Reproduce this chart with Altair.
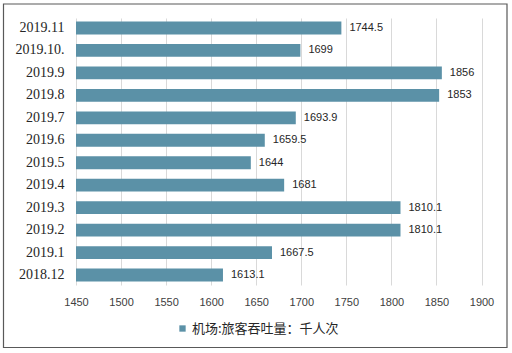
import altair as alt
import pandas as pd

months = ["2019.11", "2019.10.", "2019.9", "2019.8", "2019.7", "2019.6",
          "2019.5", "2019.4", "2019.3", "2019.2", "2019.1", "2018.12"]
values = [1744.5, 1699, 1856, 1853, 1693.9, 1659.5,
          1644, 1681, 1810.1, 1810.1, 1667.5, 1613.1]
labels = ["1744.5", "1699", "1856", "1853", "1693.9", "1659.5",
          "1644", "1681", "1810.1", "1810.1", "1667.5", "1613.1"]
x_ticks = [1450, 1500, 1550, 1600, 1650, 1700, 1750, 1800, 1850, 1900]
series_name = "机场:旅客吞吐量：千人次"

df = pd.DataFrame({"month": months, "value": values, "label": labels,
                   "series": [series_name] * len(months)})

W, H = 405.5, 267
PAD_L, PAD_T = 76, 18

xscale = alt.Scale(domain=[1450, 1900], nice=False, zero=False)
yscale = alt.Scale(paddingInner=0.43, paddingOuter=0.16)

base = alt.Chart(df)

bars = base.mark_bar(color="#5b91a7").encode(
    x=alt.X("value:Q", scale=xscale,
            axis=alt.Axis(values=x_ticks, format="d", labelFlush=False, title=None,
                          grid=True, gridColor="#d9d9d9",
                          domain=False, ticks=False, labelPadding=11,
                          labelFont="Liberation Sans", labelFontSize=11,
                          labelColor="#404040")),
    x2=alt.datum(1450),
    y=alt.Y("month:N", sort=months, scale=yscale,
            axis=alt.Axis(title=None, domain=False, ticks=False, labelPadding=12,
                          labelFont="Liberation Serif", labelFontSize=14,
                          labelColor="#262626")),
    color=alt.Color("series:N",
                    scale=alt.Scale(range=["#5b91a7"]),
                    legend=alt.Legend(title=None, orient="none", legendX=100, legendY=304,
                                      symbolType="square", symbolSize=40,
                                      symbolStrokeWidth=0, symbolOffset=0,
                                      labelFont="Noto Sans CJK SC", labelFontSize=13,
                                      labelColor="#262626", labelOffset=3)),
)

text = base.mark_text(align="left", baseline="middle", dx=8,
                      font="Liberation Sans", fontSize=11, color="#262626").encode(
    x=alt.X("value:Q", scale=xscale),
    y=alt.Y("month:N", sort=months, scale=yscale),
    text="label:N",
)

border = alt.Chart(alt.Data(values=[{"a": 1}])).mark_rect(
    fill=None, stroke="#595959", strokeWidth=1.2).encode(
    x=alt.value(3.5 - PAD_L), x2=alt.value(507 - PAD_L),
    y=alt.value(4 - PAD_T), y2=alt.value(347.5 - PAD_T),
)

chart = alt.layer(bars, text, border).properties(
    width=W, height=H,
    autosize=alt.AutoSizeParams(type="none"),
    padding={"left": PAD_L, "top": PAD_T, "right": 512 - PAD_L - W, "bottom": 353 - PAD_T - H},
    background="white",
).configure_view(stroke=None)

chart.save("out.html", embed_options={"renderer": "svg", "actions": False})
